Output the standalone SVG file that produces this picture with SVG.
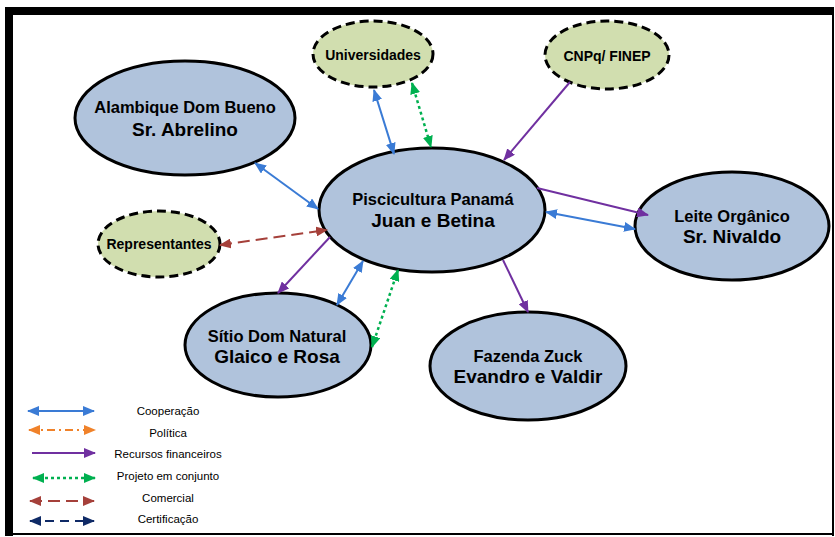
<svg xmlns="http://www.w3.org/2000/svg" width="835" height="537" viewBox="0 0 835 537">
<style>
.node{fill:#B0C3DC;stroke:#000;stroke-width:3}
.ext{fill:#D1DEAF;stroke:#000;stroke-width:3;stroke-dasharray:9 5}
text{font-family:"Liberation Sans",Arial,sans-serif;fill:#000;text-anchor:middle}
.t1{font-size:16.5px;font-weight:bold}
.t2{font-size:19px;font-weight:bold}
.t3{font-size:14px;font-weight:bold}
.lg{font-size:11.5px}
.c{stroke:#3A7BD5;stroke-width:2;fill:none}
.p{stroke:#7030A0;stroke-width:2;fill:none}
.g{stroke:#00B050;stroke-width:2.5;fill:none;stroke-dasharray:3 3}
.o{stroke:#F0822A;stroke-width:2;fill:none;stroke-dasharray:8 4 2 4}
.b{stroke:#A5403A;stroke-width:2;fill:none;stroke-dasharray:12 6}
.n{stroke:#0F2A66;stroke-width:2;fill:none;stroke-dasharray:9 6}
</style>
<defs>
<marker id="mc" markerUnits="userSpaceOnUse" markerWidth="12" markerHeight="10" refX="11" refY="5" orient="auto-start-reverse"><path d="M0,0 L12,5 L0,10 z" fill="#3A7BD5"/></marker>
<marker id="mp" markerUnits="userSpaceOnUse" markerWidth="12" markerHeight="10" refX="11" refY="5" orient="auto-start-reverse"><path d="M0,0 L12,5 L0,10 z" fill="#7030A0"/></marker>
<marker id="mg" markerUnits="userSpaceOnUse" markerWidth="12" markerHeight="10" refX="11" refY="5" orient="auto-start-reverse"><path d="M0,0 L12,5 L0,10 z" fill="#00B050"/></marker>
<marker id="mo" markerUnits="userSpaceOnUse" markerWidth="12" markerHeight="10" refX="11" refY="5" orient="auto-start-reverse"><path d="M0,0 L12,5 L0,10 z" fill="#F0822A"/></marker>
<marker id="mb" markerUnits="userSpaceOnUse" markerWidth="12" markerHeight="10" refX="11" refY="5" orient="auto-start-reverse"><path d="M0,0 L12,5 L0,10 z" fill="#A5403A"/></marker>
<marker id="mn" markerUnits="userSpaceOnUse" markerWidth="12" markerHeight="10" refX="11" refY="5" orient="auto-start-reverse"><path d="M0,0 L12,5 L0,10 z" fill="#0F2A66"/></marker>
</defs>
<rect x="0" y="0" width="835" height="537" fill="#fff"/>
<g id="frame">
<rect x="5" y="7" width="829" height="8" fill="#000"/>
<rect x="5" y="7" width="8" height="529" fill="#000"/>
<rect x="832" y="7" width="2" height="529" fill="#000"/>
<rect x="5" y="533" width="829" height="2" fill="#000"/>
</g>
<g id="universidades"><ellipse class="ext" cx="373" cy="54" rx="60" ry="33"/><text class="t3" x="373" y="60">Universidades</text></g>
<g id="cnpq"><ellipse class="ext" cx="607" cy="55" rx="62" ry="34"/><text class="t3" x="607" y="61">CNPq/ FINEP</text></g>
<g id="representantes"><ellipse class="ext" cx="159" cy="244" rx="61" ry="33"/><text class="t3" x="159" y="249">Representantes</text></g>
<g id="alambique"><ellipse class="node" cx="185" cy="118" rx="110" ry="57"/><text class="t1" x="185" y="113">Alambique Dom Bueno</text><text class="t2" x="185" y="136">Sr. Abrelino</text></g>
<g id="piscicultura"><ellipse class="node" cx="432" cy="210" rx="113" ry="62"/><text class="t1" x="433" y="205">Piscicultura Panamá</text><text class="t2" x="433" y="227">Juan e Betina</text></g>
<g id="leite"><ellipse class="node" cx="732" cy="226" rx="97" ry="54"/><text class="t1" x="732" y="222">Leite Orgânico</text><text class="t2" x="732" y="243">Sr. Nivaldo</text></g>
<g id="sitio"><ellipse class="node" cx="278" cy="345" rx="93" ry="52"/><text class="t1" x="277" y="342">Sítio Dom Natural</text><text class="t2" x="277" y="363">Glaico e Rosa</text></g>
<g id="fazenda"><ellipse class="node" cx="528" cy="366" rx="98" ry="54"/><text class="t1" x="528" y="362">Fazenda Zuck</text><text class="t2" x="528" y="383">Evandro e Valdir</text></g>
<g id="connectors">
<line class="c" x1="255" y1="163" x2="318" y2="209" marker-start="url(#mc)" marker-end="url(#mc)"/>
<line class="c" x1="374" y1="90" x2="394" y2="154" marker-start="url(#mc)" marker-end="url(#mc)"/>
<line class="g" x1="412" y1="83" x2="431" y2="147" marker-start="url(#mg)" marker-end="url(#mg)"/>
<line class="p" x1="570" y1="82" x2="504" y2="160" marker-end="url(#mp)"/>
<line class="p" x1="537" y1="188" x2="648" y2="215" marker-end="url(#mp)"/>
<line class="c" x1="546" y1="212" x2="635" y2="229" marker-start="url(#mc)" marker-end="url(#mc)"/>
<line class="p" x1="503" y1="260" x2="528" y2="312" marker-end="url(#mp)"/>
<line class="p" x1="330" y1="237" x2="278" y2="293" marker-end="url(#mp)"/>
<line class="c" x1="337" y1="305" x2="363" y2="261" marker-start="url(#mc)" marker-end="url(#mc)"/>
<line class="g" x1="372" y1="347" x2="398" y2="270" marker-start="url(#mg)" marker-end="url(#mg)"/>
<line class="b" x1="220" y1="245" x2="327" y2="230" marker-start="url(#mb)" marker-end="url(#mb)"/>
</g>
<g id="legend">
<line class="c" x1="28" y1="411" x2="94" y2="411" marker-start="url(#mc)" marker-end="url(#mc)"/>
<line class="o" x1="29" y1="430" x2="95" y2="430" marker-start="url(#mo)" marker-end="url(#mo)"/>
<line class="p" x1="32" y1="453" x2="95" y2="453" marker-end="url(#mp)"/>
<line class="g" x1="33" y1="478" x2="95" y2="478" marker-start="url(#mg)" marker-end="url(#mg)"/>
<line class="b" x1="30" y1="501" x2="94" y2="501" marker-start="url(#mb)" marker-end="url(#mb)"/>
<line class="n" x1="30" y1="521" x2="94" y2="521" marker-start="url(#mn)" marker-end="url(#mn)"/>
<text class="lg" x="168" y="415">Cooperação</text>
<text class="lg" x="168" y="437">Política</text>
<text class="lg" x="168" y="458">Recursos financeiros</text>
<text class="lg" x="168" y="480">Projeto em conjunto</text>
<text class="lg" x="168" y="502">Comercial</text>
<text class="lg" x="168" y="523">Certificação</text>
</g>
</svg>
